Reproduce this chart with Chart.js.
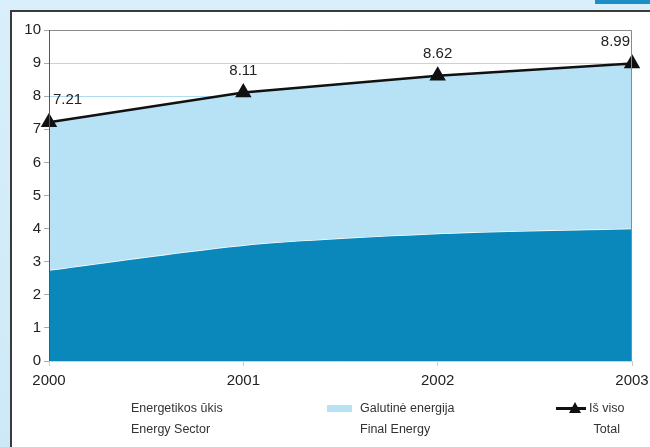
<!DOCTYPE html>
<html>
<head>
<meta charset="utf-8">
<script src="https://cdn.jsdelivr.net/npm/chart.js@4"></script>
<style>
  html, body { margin: 0; padding: 0; }
  body {
    width: 650px; height: 447px; overflow: hidden; position: relative;
    background: linear-gradient(to bottom, #d9effb, #cde9f8);
    font-family: "Liberation Sans", Arial, sans-serif;
  }
  #topbar { position: absolute; left: 595px; top: 0; width: 60px; height: 4px; background: #1b8fc6; }
  #panel {
    position: absolute; left: 10px; top: 10px; width: 660px; height: 460px;
    background: #fff; border: 2px solid #3a3a3a; box-sizing: border-box;
  }
  #wrap { position: absolute; left: 0; top: 0; width: 650px; height: 447px; }
  .lg { position: absolute; font-size: 12.5px; color: #333; line-height: 21px; white-space: nowrap; }
  .sw { position: absolute; }
</style>
</head>
<body>
<div id="topbar"></div>
<div id="panel"></div>
<div id="wrap"><canvas id="c" width="650" height="447"></canvas></div>

<div class="lg" style="left:131px; top:398px;">Energetikos ūkis<br>Energy Sector</div>
<div class="sw" style="left:327px; top:405px; width:25px; height:7px; background:#b7e2f6;"></div>
<div class="lg" style="left:360px; top:398px;">Galutinė energija<br>Final Energy</div>
<svg class="sw" style="left:556px; top:401px;" width="30" height="14">
  <line x1="0" y1="7.5" x2="30" y2="7.5" stroke="#111" stroke-width="3"/>
  <polygon points="19,1 25,12 13,12" fill="#111"/>
</svg>
<div class="lg" style="left:589px; top:398px; text-align:center;">Iš viso<br>Total</div>

<script>
const years = ["2000", "2001", "2002", "2003"];
const energySector = [2.75, 3.5, 3.85, 4.0];
const total = [7.21, 8.11, 8.62, 8.99];

// labels over the total line, kept inside the plot
const valueLabels = {
  id: "valueLabels",
  afterDatasetsDraw(chart) {
    const ctx = chart.ctx;
    const area = chart.chartArea;
    const meta = chart.getDatasetMeta(1);
    ctx.save();
    ctx.font = "15px 'Liberation Sans', Arial, sans-serif";
    ctx.fillStyle = "#222";
    ctx.textAlign = "center";
    ctx.textBaseline = "middle";
    meta.data.forEach((pt, i) => {
      const txt = total[i].toFixed(2);
      const w = ctx.measureText(txt).width;
      let x = pt.x;
      x = Math.max(x, area.left + 4 + w / 2);
      x = Math.min(x, area.right - 2 - w / 2);
      ctx.fillText(txt, x, pt.y - 22);
    });
    ctx.restore();
  }
};

// gray frame round the plot
const plotFrame = {
  id: "plotFrame",
  afterDraw(chart) {
    const a = chart.chartArea;
    const ctx = chart.ctx;
    ctx.save();
    ctx.strokeStyle = "#8a8a8a";
    ctx.lineWidth = 1;
    ctx.beginPath();
    ctx.moveTo(a.left, a.top + 0.5);
    ctx.lineTo(a.right - 0.5, a.top + 0.5);
    ctx.lineTo(a.right - 0.5, a.bottom);
    ctx.stroke();
    ctx.strokeStyle = "#555";
    ctx.beginPath();
    ctx.moveTo(a.left + 0.5, a.top);
    ctx.lineTo(a.left + 0.5, a.bottom);
    ctx.stroke();
    ctx.restore();
  }
};

new Chart(document.getElementById("c"), {
  type: "line",
  data: {
    labels: years,
    datasets: [
      {
        label: "Energetikos ūkis",
        data: energySector,
        borderColor: "#ffffff",
        borderWidth: 1.5,
        backgroundColor: "#0a88bb",
        fill: "origin",
        pointRadius: 0,
        tension: 0.25,
        order: 2
      },
      {
        label: "Iš viso",
        data: total,
        borderColor: "#111",
        borderWidth: 2.5,
        backgroundColor: "#b7e2f6",
        fill: "-1",
        pointStyle: "triangle",
        pointRadius: 7,
        pointBackgroundColor: "#111",
        pointBorderColor: "#111",
        tension: 0,
        order: 1
      }
    ]
  },
  options: {
    responsive: false,
    animation: false,
    layout: { padding: { left: 12, right: 18, top: 30, bottom: 56 } },
    plugins: { legend: { display: false }, tooltip: { enabled: false } },
    scales: {
      x: {
        offset: false,
        grid: { drawOnChartArea: false, tickLength: 5, color: "#ccc" },
        border: { display: false },
        ticks: { color: "#222", padding: 6, maxRotation: 0, font: { size: 15, family: "'Liberation Sans', Arial, sans-serif" } },
        afterFit(s) { s.height = 30; s.paddingLeft = 0; s.paddingRight = 0; }
      },
      y: {
        min: 0, max: 10,
        grid: { color: "#b0dcf2", tickColor: "#aaa", tickLength: 5 },
        border: { display: false },
        ticks: { stepSize: 1, color: "#222", padding: 3, font: { size: 15, family: "'Liberation Sans', Arial, sans-serif" } },
        afterFit(s) { s.width = 37; s.paddingTop = 0; s.paddingBottom = 0; }
      }
    }
  },
  plugins: [valueLabels, plotFrame]
});
</script>
</body>
</html>
